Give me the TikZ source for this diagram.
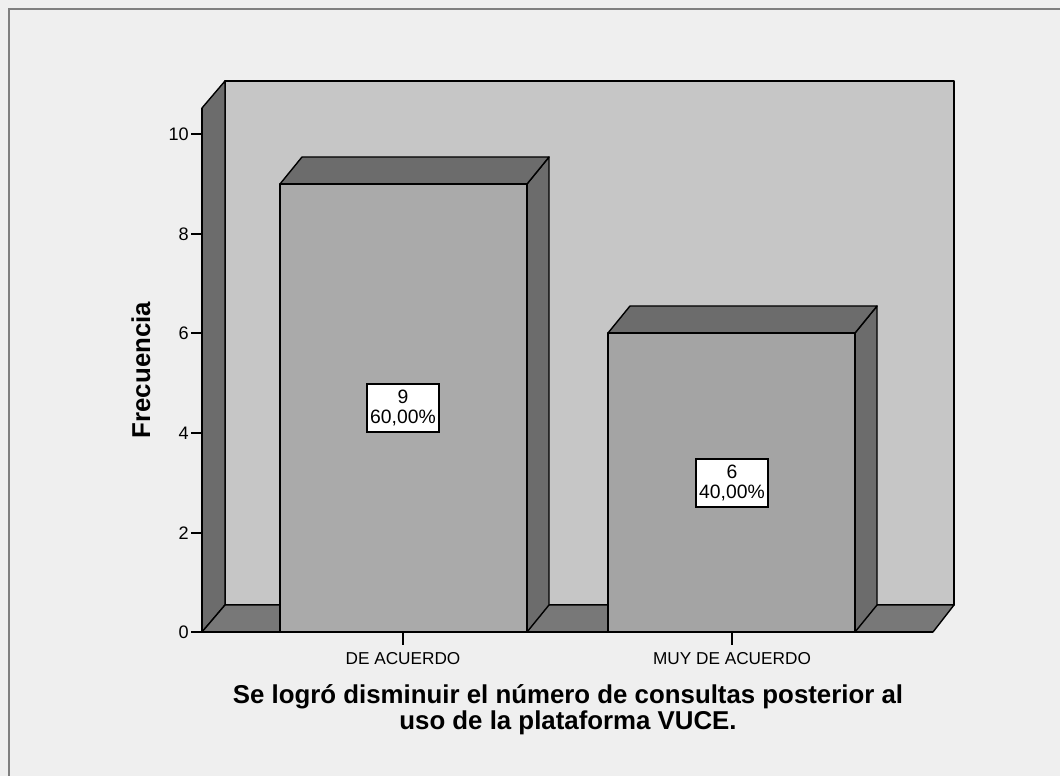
\documentclass[tikz,border=0pt]{standalone}
\usepackage{fontspec}
\setmainfont{Liberation Sans}
\definecolor{bgc}{HTML}{EFEFEF}
\definecolor{wallc}{HTML}{C6C6C6}
\definecolor{darkc}{HTML}{6C6C6C}
\definecolor{floorc}{HTML}{787878}
\definecolor{barone}{HTML}{AAAAAA}
\definecolor{bartwo}{HTML}{A4A4A4}
\definecolor{framec}{HTML}{7F7F7F}
\begin{document}
\begin{tikzpicture}[x=0.02cm,y=-0.02cm,
  face/.style={draw=black,line width=0.8pt,line join=round},
  axisline/.style={draw=black,line width=0.8pt},
  ticklbl/.style={anchor=east,inner sep=0pt,font=\fontsize{10.3}{11}\selectfont},
  catlbl/.style={anchor=center,inner sep=0pt,font=\fontsize{9.8}{11}\selectfont},
  vallbl/.style={draw=black,line width=0.8pt,fill=white,align=center,inner sep=0pt,
    minimum width=1.44cm,minimum height=0.96cm,font=\fontsize{11}{11.2}\selectfont},
  titlelbl/.style={align=center,inner sep=0pt,font=\bfseries\fontsize{14.7}{12.5}\selectfont}
]
\useasboundingbox (0,0) rectangle (1060,776);
\fill[bgc] (0,0) rectangle (1060,776);
\draw[framec,line width=1.2pt] (9,776) -- (9,9) -- (1060,9);
% back wall
\path[face,fill=wallc] (225,81) rectangle (954,605);
% left side wall
\path[face,fill=darkc] (202,108) -- (225,81) -- (225,605) -- (202,632) -- cycle;
% floor
\path[face,fill=floorc] (202,632) -- (225,605) -- (954,605) -- (933,632) -- cycle;
% bar 1
\path[face,fill=darkc] (527,184) -- (549,157) -- (549,605) -- (527,632) -- cycle;
\path[face,fill=darkc] (280,184) -- (302,157) -- (549,157) -- (527,184) -- cycle;
\path[face,fill=barone] (280,184) rectangle (527,632);
% bar 2
\path[face,fill=darkc] (855,333) -- (877,306) -- (877,605) -- (855,632) -- cycle;
\path[face,fill=darkc] (608,333) -- (630,306) -- (877,306) -- (855,333) -- cycle;
\path[face,fill=bartwo] (608,333) rectangle (855,632);
% axes
\draw[axisline] (191,632) -- (933,632);
\draw[axisline] (202,108) -- (202,632);
\foreach \v/\y in {0/632,2/533,4/433,6/333,8/234,10/134}{
  \draw[axisline] (191,\y) -- (202,\y);
  \node[ticklbl] (tick\v) at (189,\y) {\v};
}
\draw[axisline] (403,632) -- (403,645);
\draw[axisline] (732,632) -- (732,645);
\node[catlbl] (cat1) at (403,659) {DE ACUERDO};
\node[catlbl] (cat2) at (732,659) {MUY DE ACUERDO};
% value labels
\node[vallbl] (val1) at (403,408) {9\\60,00\%};
\node[vallbl] (val2) at (732,483) {6\\40,00\%};
% axis titles
\node[titlelbl,rotate=90] (ytitle) at (141,370) {Frecuencia};
\node[titlelbl] (xtitle) at (568,710) {Se logró disminuir el número de consultas posterior al\\uso de la plataforma VUCE.};
\end{tikzpicture}
\end{document}
